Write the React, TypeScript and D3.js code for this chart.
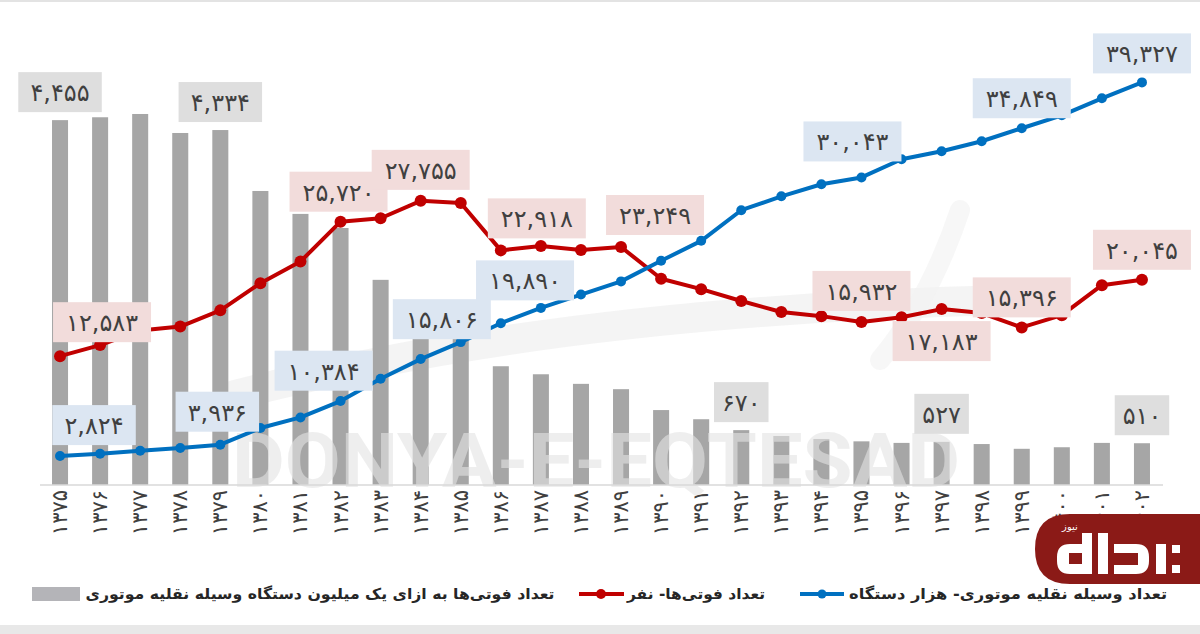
import React from 'react';
import * as d3 from 'd3';

// سال‌ها
const years = [
  '1375', '1376', '1377', '1378', '1379', '1380', '1381', '1382', '1383', '1384',
  '1385', '1386', '1387', '1388', '1389', '1390', '1391', '1392', '1393', '1394',
  '1395', '1396', '1397', '1398', '1399', '1400', '1401', '1402'
];

// تعداد وسیله نقلیه موتوری (هزار دستگاه)
const vehicles = [
  2824, 3050, 3340, 3620, 3936, 5563, 6600, 8200, 10384, 12300,
  13957, 15806, 17300, 18600, 19890, 21900, 23850, 26840, 28200, 29380,
  30043, 31820, 32600, 33580, 34849, 36110, 37770, 39327
];

// تعداد فوتی‌ها (نفر)
const deaths = [
  12583, 13664, 15100, 15480, 17058, 19715, 21830, 25720, 26060, 27755,
  27550, 22918, 23350, 22950, 23249, 20150, 19130, 17970, 16900, 16494,
  15932, 16380, 17183, 16800, 15396, 16592, 19520, 20045
];

// فوتی به ازای یک میلیون دستگاه
const perMillion = [
  4455, 4490, 4530, 4298, 4334, 3590, 3310, 3138, 2505, 2257,
  1975, 1450, 1352, 1235, 1170, 915, 803, 670, 598, 562,
  533, 514, 527, 500, 442, 461, 514, 510
];

// which points carry a value box, and where the box sits relative to the point
const barLabels = [0, 4, 17, 22, 27];
const deathLabels = [
  {i: 0, dx: 42, dy: -34}, {i: 7, dx: -2, dy: -30}, {i: 9, dx: 0, dy: -31},
  {i: 11, dx: 36, dy: -32}, {i: 14, dx: 34, dy: -32}, {i: 20, dx: 0, dy: -31},
  {i: 22, dx: 0, dy: 32}, {i: 24, dx: 0, dy: -30}, {i: 27, dx: 0, dy: -30}
];
const vehicleLabels = [
  {i: 0, dx: 34, dy: -31}, {i: 4, dx: -3, dy: -33}, {i: 8, dx: -57, dy: -8},
  {i: 11, dx: -59, dy: -4}, {i: 14, dx: -96, dy: -1}, {i: 20, dx: -9, dy: -36},
  {i: 24, dx: 0, dy: -30}, {i: 27, dx: 0, dy: -29}
];

const legendVehicles = 'تعداد وسیله نقلیه موتوری- هزار دستگاه';
const legendDeaths = 'تعداد فوتی‌ها- نفر';
const legendRate = 'تعداد فوتی‌ها به ازای یک میلیون دستگاه وسیله نقلیه موتوری';

const W = 1200;
const H = 634;
const BASE = 485;
const TOP = 75.5;

const BAR = '#a6a6a6';
const RED = '#c00000';
const BLUE = '#0070c0';
const INK = '#404040';
const FONT = '"DejaVu Sans", sans-serif';

const fa = (s) => s.replace(/\d/g, (d) => '۰۱۲۳۴۵۶۷۸۹'[+d]);
const fmt = (v) => fa(d3.format(',')(v));

function ValueBox({cx, cy, text, fill}) {
  const w = 14.5 * text.length + 11;
  return (
    <g transform={`translate(${cx},${cy})`}>
      <rect x={-w / 2} y={-20} width={w} height={40} fill={fill}/>
      <text y={9} textAnchor="middle" fontFamily={FONT} fontSize={24} fill={INK}>{text}</text>
    </g>
  );
}

export default function App() {
  const x = d3.scaleBand()
    .domain(years)
    .range([40, 1162])
    .paddingInner(0.6)
    .paddingOuter(0.3);

  const yBar = d3.scaleLinear().domain([0, 5000]).range([BASE, TOP]);
  const yLine = d3.scaleLinear().domain([0, 40000]).range([BASE, TOP]);

  const cx = (i) => x(years[i]) + x.bandwidth() / 2;

  const line = d3.line()
    .x((d, i) => cx(i))
    .y((d) => yLine(d));

  return (
    <svg width={W} height={H} style={{position: 'absolute', left: 0, top: 0, background: '#fff'}}>
      <rect x={0} y={0} width={W} height={2} fill="#e3e3e3"/>
      <rect x={0} y={625} width={W} height={9} fill="#e8e8e8"/>

      {/* faint calligraphy watermark */}
      <g fill="none" stroke="#f1f1f1" strokeLinecap="round">
        <path d="M 235 395 Q 560 310 1010 300" strokeWidth={30} opacity={0.8}/>
        <path d="M 880 360 Q 930 300 960 210" strokeWidth={20} opacity={0.6}/>
      </g>

      {/* bars */}
      {perMillion.map((v, i) => (
        <rect key={years[i]} x={x(years[i])} y={yBar(v)} width={x.bandwidth()}
          height={BASE - yBar(v)} fill={BAR}/>
      ))}

      {/* DONYA-E-EQTESAD watermark */}
      <text x={596} y={487} textAnchor="middle" fontFamily="Roboto, sans-serif" fontWeight={700}
        fontSize={76} textLength={728} lengthAdjust="spacingAndGlyphs"
        fill="#e4e4e4" opacity={0.6}>DONYA-E-EQTESAD</text>

      <line x1={40} x2={1163} y1={BASE} y2={BASE} stroke="#d9d9d9" strokeWidth={1.5}/>

      {/* x axis labels */}
      {years.map((y, i) => (
        <text key={y} transform={`translate(${cx(i) + 7},${BASE + 5}) rotate(-90)`}
          textAnchor="end" fontFamily={FONT} fontSize={21} fill={INK}>{fa(y)}</text>
      ))}

      {/* lines */}
      <path d={line(deaths)} fill="none" stroke={RED} strokeWidth={4} strokeLinejoin="round"/>
      {deaths.map((v, i) => (
        <circle key={i} cx={cx(i)} cy={yLine(v)} r={6} fill={RED}/>
      ))}
      <path d={line(vehicles)} fill="none" stroke={BLUE} strokeWidth={4} strokeLinejoin="round"/>
      {vehicles.map((v, i) => (
        <circle key={i} cx={cx(i)} cy={yLine(v)} r={5} fill={BLUE}/>
      ))}

      {/* value boxes */}
      {barLabels.map((i) => (
        <ValueBox key={'b' + i} cx={cx(i)} cy={yBar(perMillion[i]) - 28}
          text={fmt(perMillion[i])} fill="#dedede"/>
      ))}
      {deathLabels.map(({i, dx, dy}) => (
        <ValueBox key={'d' + i} cx={cx(i) + dx} cy={yLine(deaths[i]) + dy}
          text={fmt(deaths[i])} fill="#f2dcdb"/>
      ))}
      {vehicleLabels.map(({i, dx, dy}) => (
        <ValueBox key={'v' + i} cx={cx(i) + dx} cy={yLine(vehicles[i]) + dy}
          text={fmt(vehicles[i])} fill="#dce6f2"/>
      ))}

      {/* logo */}
      <g>
        <path d="M 1200 514 L 1070 514 Q 1035 514 1035 549 Q 1035 584 1070 584 L 1200 584 Z" fill="#8b1a17"/>
        <text x={1070} y={530} textAnchor="middle" fontFamily={FONT} fontSize={10} fill="#fff">نیوز</text>
        <g fill="#fff">
          <path d="M 1082 533 h 10 v 41 h -22 q -13 0 -13 -13 v -4 q 0 -13 13 -13 h 12 Z M 1069 553 v 11 h 13 v -11 Z" fillRule="evenodd"/>
          <rect x={1098} y={533} width={10} height={41}/>
          <path d="M 1114 544 h 22 q 13 0 13 13 v 4 q 0 13 -13 13 h -22 v -9 h 24 v -12 h -24 Z"/>
          <rect x={1156} y={544} width={10} height={30}/>
          <rect x={1172} y={545} width={8} height={8}/>
          <rect x={1172} y={565} width={8} height={8}/>
        </g>
      </g>

      {/* legend */}
      <g fontFamily={FONT} fontWeight={700} fontSize={15} fill="#262626">
        <text x={1008} y={599} textAnchor="middle" textLength={318}
          lengthAdjust="spacingAndGlyphs">{legendVehicles}</text>
        <line x1={800} x2={844} y1={594} y2={594} stroke={BLUE} strokeWidth={4}/>
        <circle cx={822} cy={594} r={4.5} fill={BLUE}/>
        <text x={696} y={599} textAnchor="middle" textLength={138}
          lengthAdjust="spacingAndGlyphs">{legendDeaths}</text>
        <line x1={579} x2={624} y1={594} y2={594} stroke={RED} strokeWidth={4}/>
        <circle cx={601} cy={594} r={5} fill={RED}/>
        <text x={320} y={599} textAnchor="middle" textLength={469}
          lengthAdjust="spacingAndGlyphs">{legendRate}</text>
        <rect x={32} y={587} width={48} height={14} fill="#b4b4b8"/>
      </g>
    </svg>
  );
}
